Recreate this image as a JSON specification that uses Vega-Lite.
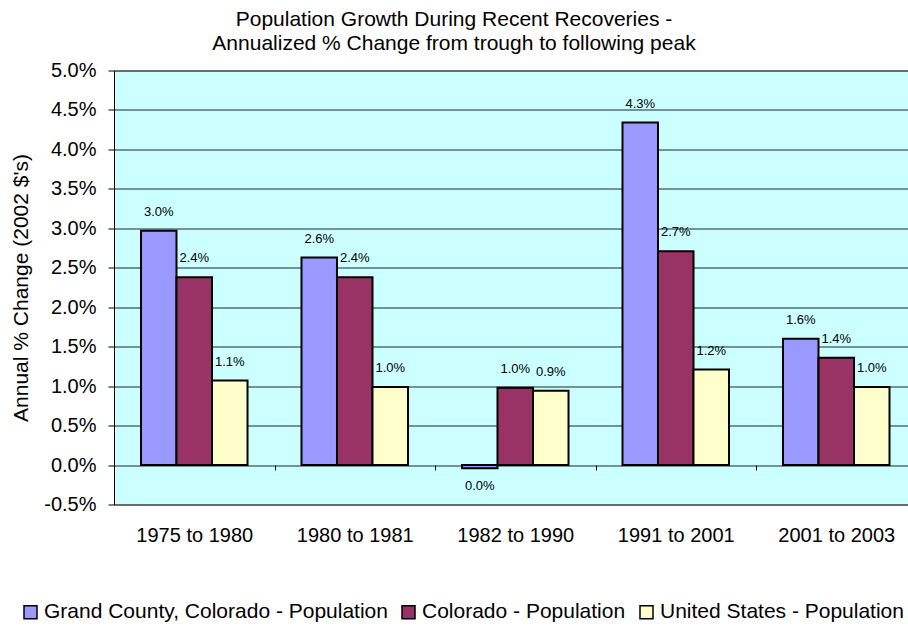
{
  "$schema": "https://vega.github.io/schema/vega-lite/v6.json",
  "width": 794,
  "height": 434,
  "autosize": {"type": "none"},
  "padding": {"left": 114, "top": 70.5, "right": 0, "bottom": 123.5},
  "background": "white",
  "title": {
    "text": ["Population Growth During Recent Recoveries -", "Annualized % Change from trough to following peak"],
    "fontSize": 21,
    "font": "Liberation Sans",
    "fontWeight": "normal",
    "lineHeight": 24,
    "anchor": "middle",
    "frame": "group",
    "dx": -57,
    "offset": 7,
    "color": "black"
  },
  "config": {
    "view": {"fill": "#CCFFFF", "stroke": "#808080", "strokeWidth": 1},
    "font": "Liberation Sans"
  },
  "data": {
    "values": [
      {"period": "1975 to 1980", "series": "Grand County, Colorado - Population", "value": 0.0297},
      {"period": "1975 to 1980", "series": "Colorado - Population", "value": 0.0238},
      {"period": "1975 to 1980", "series": "United States - Population", "value": 0.0107},
      {"period": "1980 to 1981", "series": "Grand County, Colorado - Population", "value": 0.0263},
      {"period": "1980 to 1981", "series": "Colorado - Population", "value": 0.0238},
      {"period": "1980 to 1981", "series": "United States - Population", "value": 0.0099},
      {"period": "1982 to 1990", "series": "Grand County, Colorado - Population", "value": -0.0004},
      {"period": "1982 to 1990", "series": "Colorado - Population", "value": 0.0098},
      {"period": "1982 to 1990", "series": "United States - Population", "value": 0.0094},
      {"period": "1991 to 2001", "series": "Grand County, Colorado - Population", "value": 0.0434},
      {"period": "1991 to 2001", "series": "Colorado - Population", "value": 0.0271},
      {"period": "1991 to 2001", "series": "United States - Population", "value": 0.0121},
      {"period": "2001 to 2003", "series": "Grand County, Colorado - Population", "value": 0.016},
      {"period": "2001 to 2003", "series": "Colorado - Population", "value": 0.0136},
      {"period": "2001 to 2003", "series": "United States - Population", "value": 0.0099}
    ]
  },
  "encoding": {
    "x": {
      "field": "period",
      "type": "nominal",
      "sort": ["1975 to 1980", "1980 to 1981", "1982 to 1990", "1991 to 2001", "2001 to 2003"],
      "scale": {"range": [0, 802.5], "paddingInner": 0, "paddingOuter": 0},
      "axis": {
        "title": null,
        "labelFontSize": 20,
        "labelColor": "black",
        "labelAngle": 0,
        "labelPadding": 65,
        "labelBaseline": "middle",
        "offset": -39.5,
        "tickBand": "extent",
        "tickSize": 5,
        "tickColor": "black",
        "domain": false,
        "grid": false
      }
    },
    "xOffset": {
      "field": "series",
      "sort": ["Grand County, Colorado - Population", "Colorado - Population", "United States - Population"],
      "scale": {"paddingInner": 0, "paddingOuter": 0.76}
    },
    "y": {
      "field": "value",
      "type": "quantitative",
      "scale": {"domain": [-0.005, 0.05], "nice": false, "zero": false},
      "axis": {
        "title": "Annual % Change (2002 $'s)",
        "titleFontSize": 21,
        "titleFontWeight": "normal",
        "titleColor": "black",
        "titleX": -93,
        "titleY": 217,
        "titleAngle": -90,
        "titleBaseline": "middle",
        "titleAlign": "center",
        "values": [-0.005, 0, 0.005, 0.01, 0.015, 0.02, 0.025, 0.03, 0.035, 0.04, 0.045, 0.05],
        "format": ".1%",
        "labelExpr": "replace(datum.label, '\u2212', '-')",
        "labelFontSize": 20,
        "labelColor": "black",
        "labelPadding": 12,
        "tickSize": 6,
        "tickColor": "black",
        "domainColor": "black",
        "gridColor": "black",
        "gridOpacity": 0.85
      }
    }
  },
  "layer": [
    {
      "mark": {"type": "bar", "stroke": "black", "strokeWidth": 2},
      "encoding": {
        "color": {
          "field": "series",
          "type": "nominal",
          "scale": {
            "domain": ["Grand County, Colorado - Population", "Colorado - Population", "United States - Population"],
            "range": ["#9999FF", "#993366", "#FFFFCC"]
          },
          "legend": {
            "orient": "none",
            "legendX": -94,
            "legendY": 531,
            "direction": "horizontal",
            "title": null,
            "labelFontSize": 21,
            "labelLimit": 600,
            "labelColor": "black",
            "symbolType": "square",
            "symbolSize": 169,
            "symbolStrokeColor": "black",
            "symbolStrokeWidth": 1.5,
            "symbolOpacity": 1,
            "labelOffset": 3,
            "columnPadding": 10
          }
        }
      }
    },
    {
      "transform": [{"filter": "datum.value >= 0"}],
      "mark": {"type": "text", "dy": -19, "baseline": "middle", "fontSize": 13, "color": "black"},
      "encoding": {"text": {"field": "value", "type": "quantitative", "format": ".1%"}}
    },
    {
      "transform": [{"filter": "datum.value < 0"}],
      "mark": {"type": "text", "dy": 18, "baseline": "middle", "fontSize": 13, "color": "black"},
      "encoding": {"text": {"field": "value", "type": "quantitative", "format": ".1%"}}
    }
  ]
}
